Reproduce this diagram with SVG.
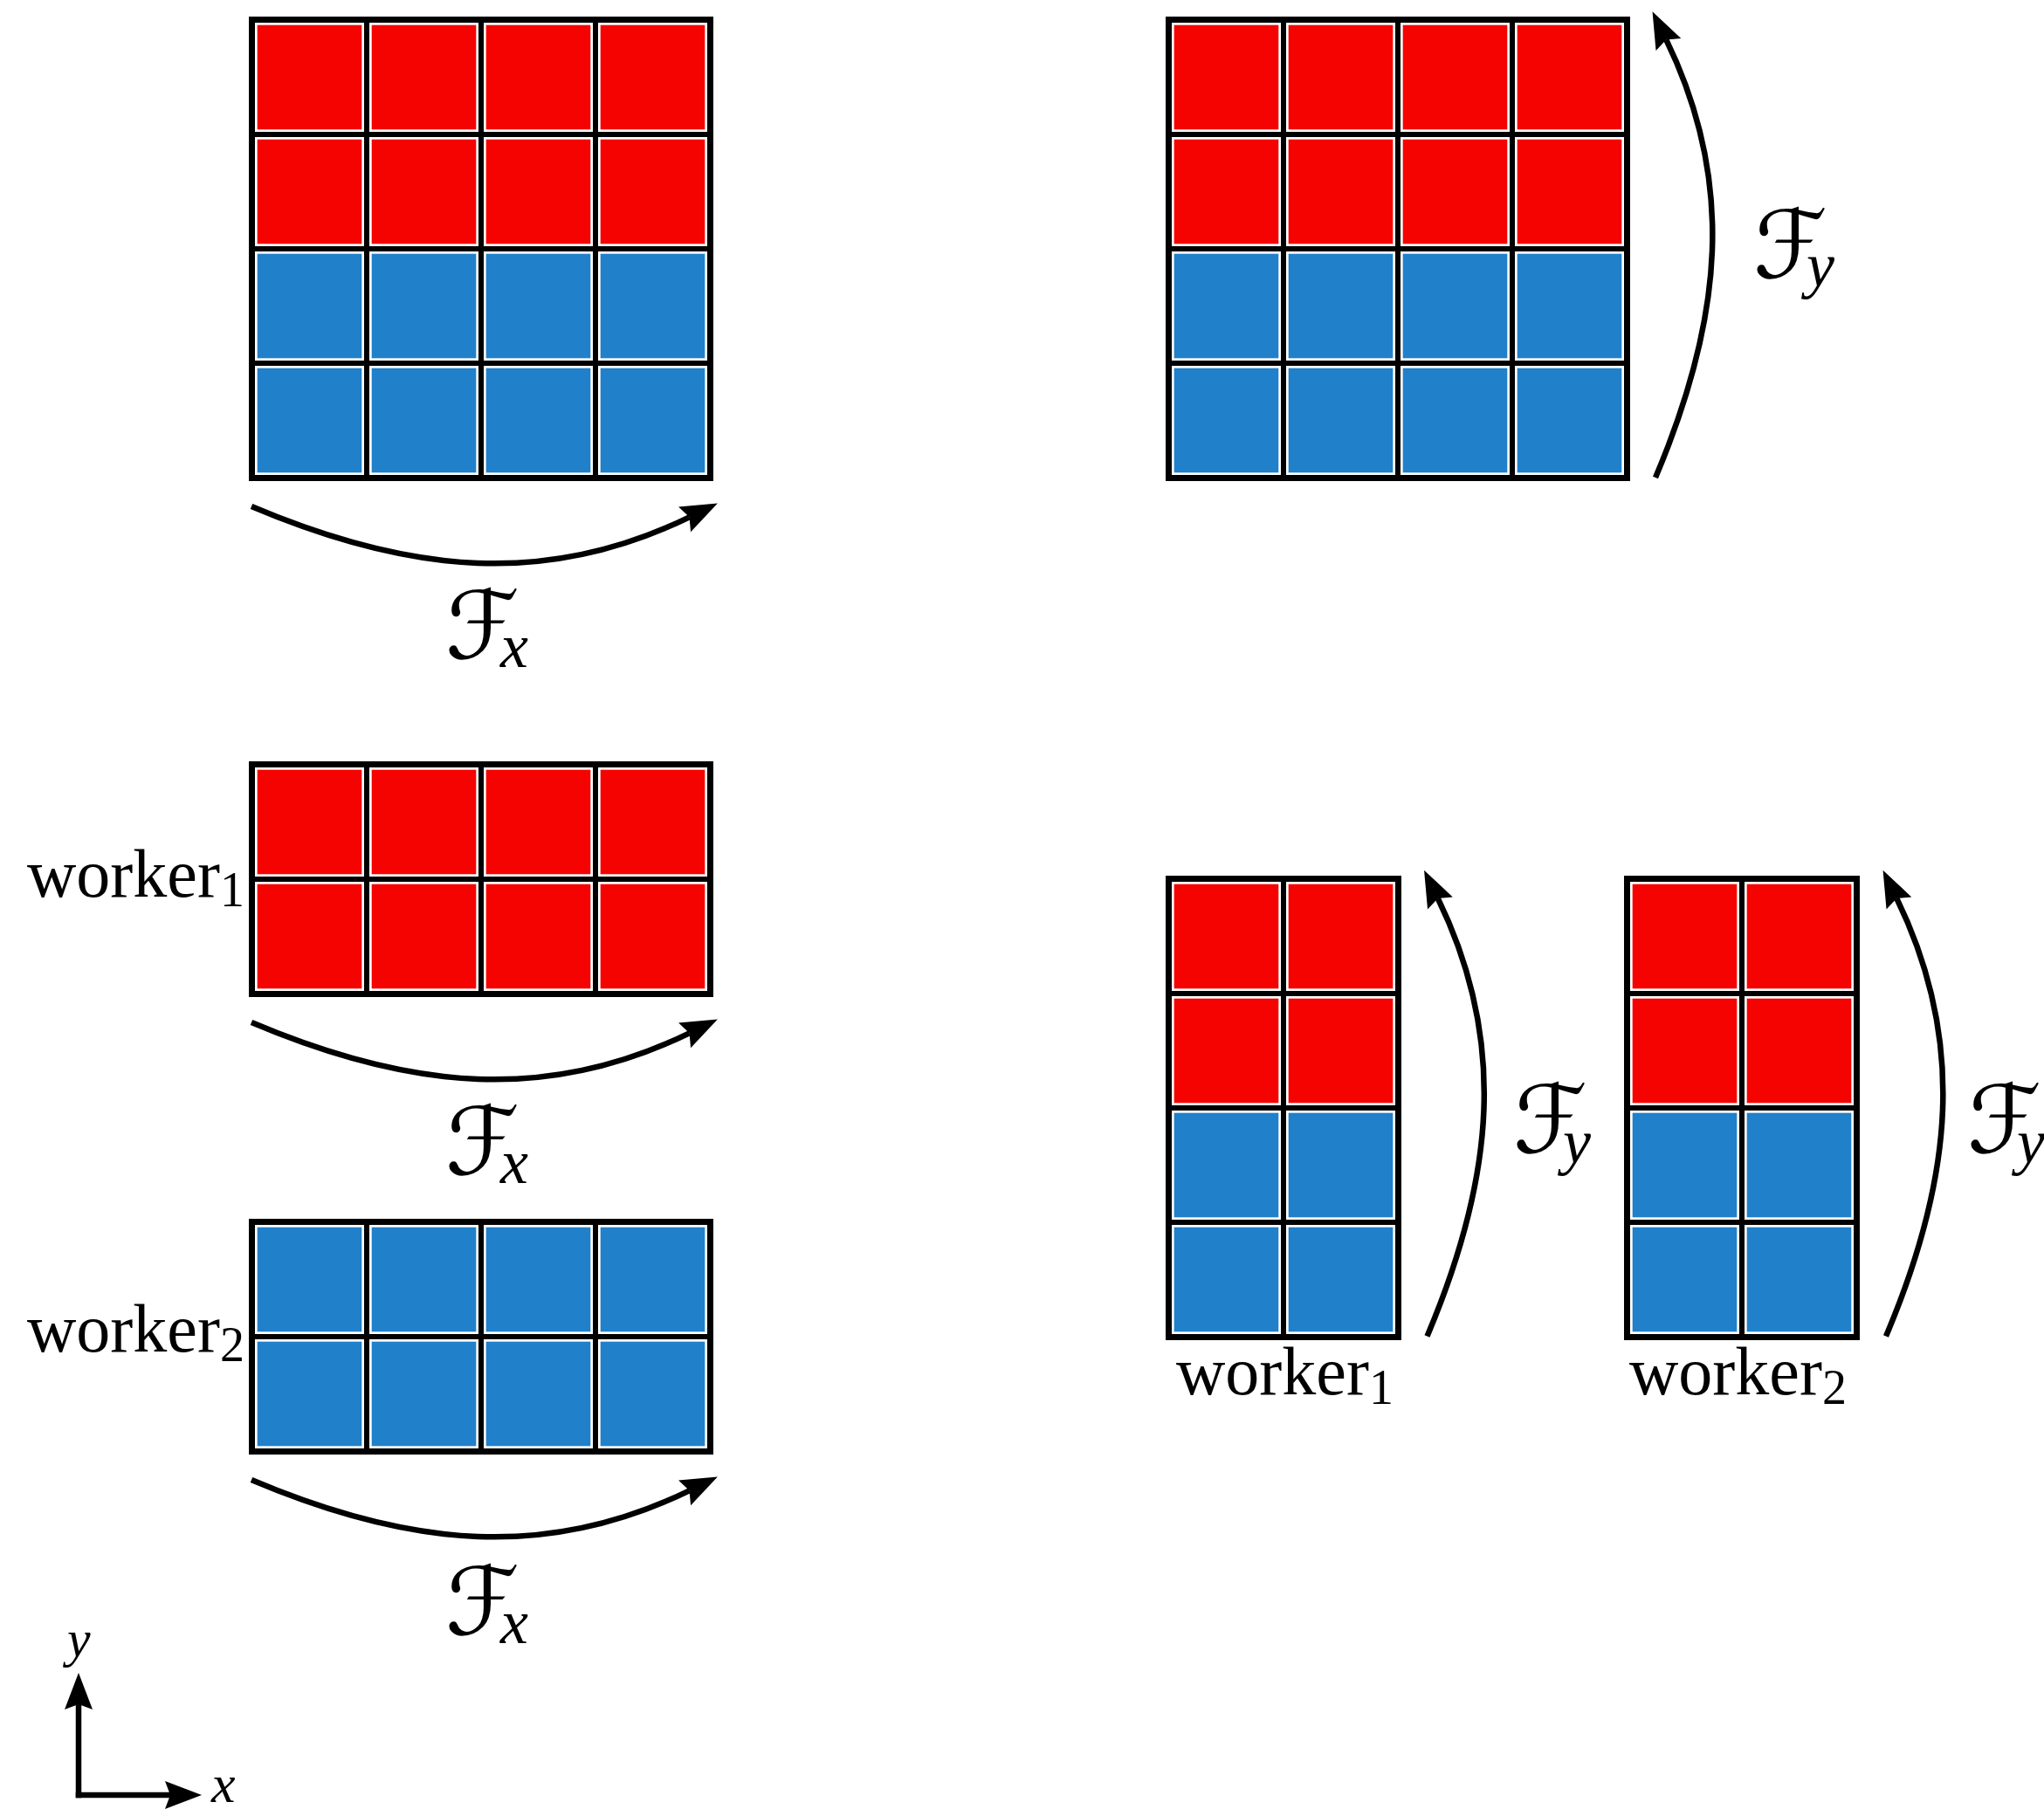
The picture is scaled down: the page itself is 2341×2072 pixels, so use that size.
<svg xmlns="http://www.w3.org/2000/svg" xmlns:xlink="http://www.w3.org/1999/xlink" width="2341" height="2072" viewBox="0 0 2341 2072">
<style>
.bg{fill:#000}
.arr{fill:none;stroke:#000;stroke-width:6.5}
.lbl{font-family:"Liberation Serif","DejaVu Serif",serif;font-size:78px;fill:#000}
.sub{font-size:56px}
.cal{font-family:"DejaVu Serif","DejaVu Sans",serif;font-size:108px;fill:#000}
.it{font-family:"Liberation Serif","DejaVu Serif",serif;font-style:italic;font-size:72px;fill:#000}
</style>
<defs>
<g id="rc"><rect width="125" height="125" fill="#fff"/><rect x="2.7" y="2.7" width="119.6" height="119.6" fill="#f50300"/></g>
<g id="bc"><rect width="125" height="125" fill="#fff"/><rect x="2.7" y="2.7" width="119.6" height="119.6" fill="#2180ca"/></g>
<marker id="ah" markerUnits="userSpaceOnUse" orient="auto" viewBox="-10 -20 50 40" refX="0" refY="0" markerWidth="50" markerHeight="40" overflow="visible">
<path d="M36,0 L-6,-16 L0,0 L-6,16 Z" fill="#000"/>
</marker>
</defs>

<g id="gridA" transform="translate(285,19)">
<rect class="bg" width="532" height="532"/>
<use href="#rc" x="7" y="7"/><use href="#rc" x="138" y="7"/><use href="#rc" x="269" y="7"/><use href="#rc" x="400" y="7"/>
<use href="#rc" x="7" y="138"/><use href="#rc" x="138" y="138"/><use href="#rc" x="269" y="138"/><use href="#rc" x="400" y="138"/>
<use href="#bc" x="7" y="269"/><use href="#bc" x="138" y="269"/><use href="#bc" x="269" y="269"/><use href="#bc" x="400" y="269"/>
<use href="#bc" x="7" y="400"/><use href="#bc" x="138" y="400"/><use href="#bc" x="269" y="400"/><use href="#bc" x="400" y="400"/>
</g>

<g id="gridB" transform="translate(1335,19)">
<rect class="bg" width="532" height="532"/>
<use href="#rc" x="7" y="7"/><use href="#rc" x="138" y="7"/><use href="#rc" x="269" y="7"/><use href="#rc" x="400" y="7"/>
<use href="#rc" x="7" y="138"/><use href="#rc" x="138" y="138"/><use href="#rc" x="269" y="138"/><use href="#rc" x="400" y="138"/>
<use href="#bc" x="7" y="269"/><use href="#bc" x="138" y="269"/><use href="#bc" x="269" y="269"/><use href="#bc" x="400" y="269"/>
<use href="#bc" x="7" y="400"/><use href="#bc" x="138" y="400"/><use href="#bc" x="269" y="400"/><use href="#bc" x="400" y="400"/>
</g>

<g id="gridC" transform="translate(285,872)">
<rect class="bg" width="532" height="270"/>
<use href="#rc" x="7" y="7"/><use href="#rc" x="138" y="7"/><use href="#rc" x="269" y="7"/><use href="#rc" x="400" y="7"/>
<use href="#rc" x="7" y="138"/><use href="#rc" x="138" y="138"/><use href="#rc" x="269" y="138"/><use href="#rc" x="400" y="138"/>
</g>

<g id="gridD" transform="translate(285,1396)">
<rect class="bg" width="532" height="270"/>
<use href="#bc" x="7" y="7"/><use href="#bc" x="138" y="7"/><use href="#bc" x="269" y="7"/><use href="#bc" x="400" y="7"/>
<use href="#bc" x="7" y="138"/><use href="#bc" x="138" y="138"/><use href="#bc" x="269" y="138"/><use href="#bc" x="400" y="138"/>
</g>

<g id="gridE" transform="translate(1335,1003)">
<rect class="bg" width="270" height="532"/>
<use href="#rc" x="7" y="7"/><use href="#rc" x="138" y="7"/>
<use href="#rc" x="7" y="138"/><use href="#rc" x="138" y="138"/>
<use href="#bc" x="7" y="269"/><use href="#bc" x="138" y="269"/>
<use href="#bc" x="7" y="400"/><use href="#bc" x="138" y="400"/>
</g>

<g id="gridF" transform="translate(1860,1003)">
<rect class="bg" width="270" height="532"/>
<use href="#rc" x="7" y="7"/><use href="#rc" x="138" y="7"/>
<use href="#rc" x="7" y="138"/><use href="#rc" x="138" y="138"/>
<use href="#bc" x="7" y="269"/><use href="#bc" x="138" y="269"/>
<use href="#bc" x="7" y="400"/><use href="#bc" x="138" y="400"/>
</g>

<g id="connectors">
<path class="arr" transform="translate(288,580)" d="M0,0 C184,78 339.7,91.1 501.5,12.3" marker-end="url(#ah)"/>
<path class="arr" transform="translate(288,1171)" d="M0,0 C184,78 339.7,91.1 501.5,12.3" marker-end="url(#ah)"/>
<path class="arr" transform="translate(288,1695)" d="M0,0 C184,78 339.7,91.1 501.5,12.3" marker-end="url(#ah)"/>
<path class="arr" transform="translate(1896,547) rotate(-90)" d="M0,0 C184,78 339.7,91.1 501.5,12.3" marker-end="url(#ah)"/>
<path class="arr" transform="translate(1634.5,1530.5) rotate(-90)" d="M0,0 C184,78 339.7,91.1 501.5,12.3" marker-end="url(#ah)"/>
<path class="arr" transform="translate(2160,1530.5) rotate(-90)" d="M0,0 C184,78 339.7,91.1 501.5,12.3" marker-end="url(#ah)"/>
<path class="arr" d="M90,2059.25 V1952" marker-end="url(#ah)"/>
<path class="arr" d="M86.75,2056 H195" marker-end="url(#ah)"/>
</g>

<g id="labels">
<text class="lbl" x="31" y="1027">worker<tspan class="sub" dy="11">1</tspan></text>
<text class="lbl" x="31" y="1548">worker<tspan class="sub" dy="11">2</tspan></text>
<text class="lbl" x="1347" y="1597">worker<tspan class="sub" dy="11">1</tspan></text>
<text class="lbl" x="1866" y="1597">worker<tspan class="sub" dy="11">2</tspan></text>

<text class="cal" x="510" y="754">ℱ<tspan class="it" x="573" dy="10">x</tspan></text>
<text class="cal" x="510" y="1345">ℱ<tspan class="it" x="573" dy="10">x</tspan></text>
<text class="cal" x="510" y="1872">ℱ<tspan class="it" x="573" dy="10">x</tspan></text>
<text class="cal" x="2008" y="318">ℱ<tspan class="it" x="2069" dy="10">y</tspan></text>
<text class="cal" x="1733" y="1320">ℱ<tspan class="it" x="1790" dy="12">y</tspan></text>
<text class="cal" x="2253" y="1320">ℱ<tspan class="it" x="2310" dy="12">y</tspan></text>

<text class="it" x="77" y="1897" style="font-size:60px">y</text>
<text class="it" x="242" y="2064" style="font-size:62px">x</text>
</g>
</svg>
